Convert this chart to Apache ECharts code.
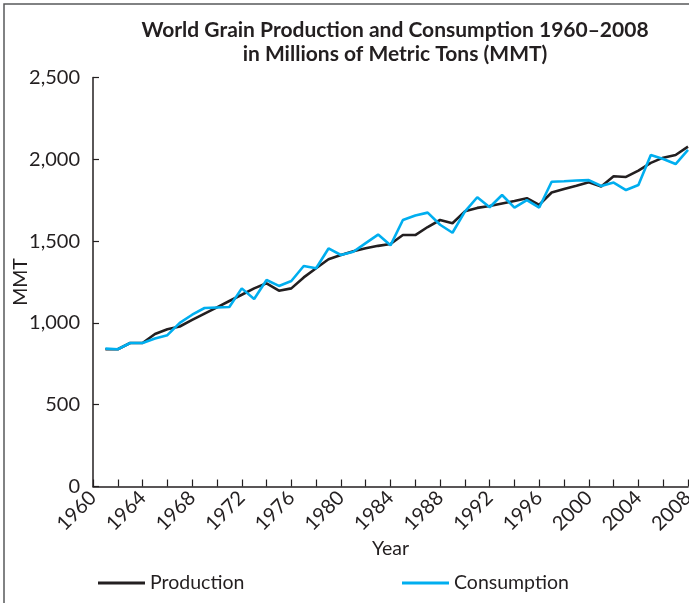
<!DOCTYPE html>
<html>
<head>
<meta charset="utf-8">
<script src="https://cdn.jsdelivr.net/npm/echarts@6/dist/echarts.min.js"></script>
<style>
  html, body { margin: 0; padding: 0; background: #fff; }
  #chart { width: 689px; height: 603px; }
</style>
</head>
<body>
<div id="chart"></div>
<script>
// World grain production and consumption, million metric tons
const years = [1961, 1962, 1963, 1964, 1965, 1966, 1967, 1968, 1969, 1970,
  1971, 1972, 1973, 1974, 1975, 1976, 1977, 1978, 1979, 1980,
  1981, 1982, 1983, 1984, 1985, 1986, 1987, 1988, 1989, 1990,
  1991, 1992, 1993, 1994, 1995, 1996, 1997, 1998, 1999, 2000,
  2001, 2002, 2003, 2004, 2005, 2006, 2007, 2008];

const production = [839, 839, 877, 877, 932, 961, 978, 1018, 1057, 1095,
  1134, 1172, 1211, 1242, 1197, 1211, 1278, 1334, 1389, 1415,
  1438, 1456, 1471, 1482, 1537, 1537, 1586, 1629, 1609, 1682,
  1703, 1715, 1730, 1745, 1762, 1722, 1797, 1818, 1838, 1859,
  1833, 1896, 1892, 1931, 1978, 2010, 2026, 2077];

const consumption = [843, 839, 877, 877, 905, 925, 1000, 1050, 1091, 1094,
  1097, 1211, 1146, 1262, 1226, 1256, 1348, 1334, 1455, 1415,
  1435, 1488, 1540, 1474, 1629, 1656, 1674, 1600, 1551, 1680,
  1768, 1707, 1782, 1705, 1751, 1705, 1863, 1866, 1870, 1873,
  1837, 1858, 1812, 1843, 2026, 2002, 1971, 2057];

const titleLines = ['World Grain Production and Consumption 1960\u20132008',
  'in Millions of Metric Tons (MMT)'];

const INK = '#231f20';
const CYAN = '#00aeef';
const FONT = 'Lato';

const chart = echarts.init(document.getElementById('chart'), null, { renderer: 'canvas' });

const pairs = (vals) => years.map((y, i) => [y, vals[i]]);

chart.setOption({
  animation: false,
  backgroundColor: '#fff',
  title: {
    text: titleLines.join('\n'),
    left: 390,
    top: 13,
    textAlign: 'center',
    textStyle: { fontFamily: FONT, fontWeight: 'bold', fontSize: 21, lineHeight: 24, color: INK }
  },
  graphic: [{
    type: 'polyline',
    shape: { points: [[4, 603], [4, 4], [689, 4]] },
    style: { stroke: '#58595b', lineWidth: 1.5, fill: null },
    silent: true
  }],
  legend: [{
    data: ['Production'],
    left: 93, top: 568,
    icon: 'rect', itemWidth: 47, itemHeight: 3,
    textStyle: { fontFamily: FONT, fontSize: 19.5, color: INK }
  }, {
    data: ['Consumption'],
    left: 397, top: 568,
    icon: 'rect', itemWidth: 47, itemHeight: 3,
    textStyle: { fontFamily: FONT, fontSize: 19.5, color: INK }
  }],
  grid: { left: 93, right: 1, top: 77.5, bottom: 116.5, containLabel: false, outerBoundsMode: 'none' },
  xAxis: {
    type: 'value',
    min: 1960, max: 2008, interval: 2,
    name: 'Year', nameLocation: 'middle', nameGap: 52, nameMoveOverlap: false,
    nameTextStyle: { fontFamily: FONT, fontSize: 19.5, color: INK },
    axisLine: { lineStyle: { color: INK, width: 1.5 } },
    axisTick: { inside: true, length: 7, lineStyle: { color: INK, width: 1.2 } },
    axisLabel: {
      rotate: 45, margin: 8, fontFamily: FONT, fontSize: 20, color: INK,
      showMaxLabel: true, showMinLabel: true,
      formatter: (v) => (v % 4 === 0 ? String(v) : '')
    },
    splitLine: { show: false }
  },
  yAxis: {
    type: 'value',
    min: 0, max: 2500, interval: 500,
    name: 'MMT', nameLocation: 'middle', nameGap: 62, nameRotate: 90, nameMoveOverlap: false,
    nameTextStyle: { fontFamily: FONT, fontSize: 19.5, color: INK },
    axisLine: { show: true, lineStyle: { color: INK, width: 1.5 } },
    axisTick: { show: true, inside: true, length: 6, lineStyle: { color: INK, width: 1.2 } },
    axisLabel: {
      margin: 13, fontFamily: FONT, fontSize: 20, color: INK,
      formatter: (v) => v.toLocaleString('en-US')
    },
    splitLine: { show: false }
  },
  series: [{
    name: 'Production',
    type: 'line',
    data: pairs(production),
    showSymbol: false,
    symbol: 'none',
    color: INK,
    lineStyle: { color: INK, width: 2.6 },
    z: 2
  }, {
    name: 'Consumption',
    type: 'line',
    data: pairs(consumption),
    showSymbol: false,
    symbol: 'none',
    color: CYAN,
    lineStyle: { color: CYAN, width: 2.6 },
    z: 3
  }]
});
</script>
</body>
</html>
